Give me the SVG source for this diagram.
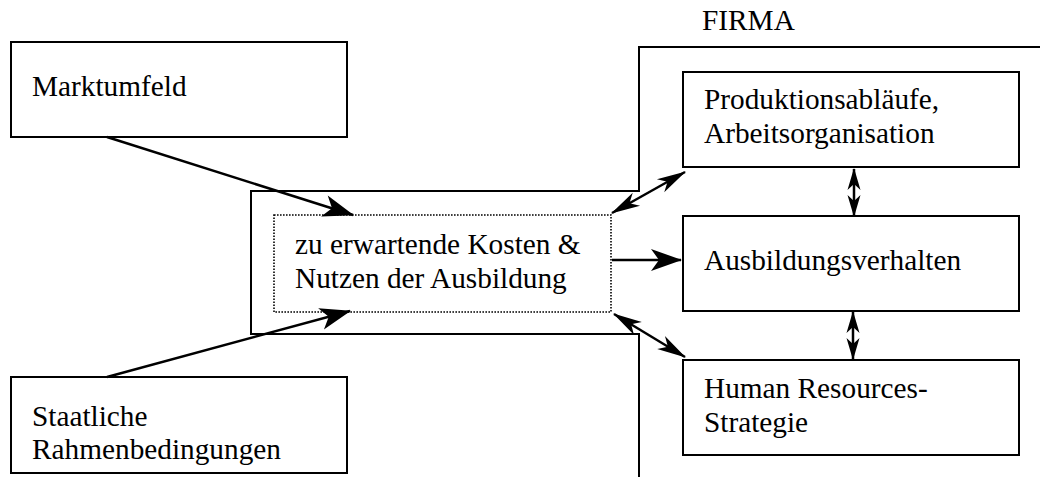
<svg xmlns="http://www.w3.org/2000/svg" width="1040" height="477" viewBox="0 0 1040 477">
<style>
  .box { fill: #fff; stroke: #000; stroke-width: 2; }
  .dot { fill: none; stroke: #000; stroke-width: 1.6; stroke-dasharray: 1.6 1.4; }
  .frame { fill: none; stroke: #000; stroke-width: 2; }
  text { font-family: 'Liberation Serif', 'Times New Roman', Times, serif; font-size: 29.3px; fill: #000; }
  .c { fill: none; stroke: #000; stroke-width: 2.5; }
  .big { marker-end: url(#ah); }
  .dbl { marker-start: url(#ahs); marker-end: url(#ahs); }
  .vdbl { marker-start: url(#ahv); marker-end: url(#ahv); }
</style>
<defs>
  <marker id="ah" markerUnits="userSpaceOnUse" viewBox="-32 -12 34 24" refX="0" refY="0" markerWidth="34" markerHeight="24" orient="auto">
    <path d="M1,0 L-30,-11 L-22,0 L-30,11 Z" fill="#000"/>
  </marker>
  <marker id="ahs" markerUnits="userSpaceOnUse" viewBox="-30 -9 32 18" refX="0" refY="0" markerWidth="32" markerHeight="18" orient="auto-start-reverse">
    <path d="M1,0 L-28,-7.5 L-20,0 L-28,7.5 Z" fill="#000"/>
  </marker>
  <marker id="ahv" markerUnits="userSpaceOnUse" viewBox="-22 -8 24 16" refX="0" refY="0" markerWidth="24" markerHeight="16" orient="auto-start-reverse">
    <path d="M1,0 L-21,-6.5 L-15,0 L-21,6.5 Z" fill="#000"/>
  </marker>
</defs>

<g id="firma">
  <path class="frame" d="M1040,47 L639,47 L639,191 L251,191 L251,334 L639,334 L639,477"/>
  <text x="702" y="30">FIRMA</text>
</g>

<g id="marktumfeld">
  <rect class="box" x="11" y="42" width="336" height="95"/>
  <text x="32" y="96">Marktumfeld</text>
</g>

<g id="staatliche">
  <rect class="box" x="11" y="377" width="336" height="96"/>
  <text x="32" y="426">Staatliche</text>
  <text x="32" y="459">Rahmenbedingungen</text>
</g>

<g id="kosten">
  <rect class="dot" x="274" y="215" width="337" height="97"/>
  <text x="295" y="254">zu erwartende Kosten &amp;</text>
  <text x="295" y="288">Nutzen der Ausbildung</text>
</g>

<g id="produktion">
  <rect class="box" x="683" y="72" width="336" height="95"/>
  <text x="704" y="109">Produktionsabläufe,</text>
  <text x="704" y="143">Arbeitsorganisation</text>
</g>

<g id="ausbildung">
  <rect class="box" x="683" y="216" width="336" height="95"/>
  <text x="704" y="270">Ausbildungsverhalten</text>
</g>

<g id="hr">
  <rect class="box" x="683" y="360" width="336" height="95"/>
  <text x="704" y="398">Human Resources-</text>
  <text x="704" y="432">Strategie</text>
</g>

<g id="connectors">
  <line class="c big" x1="107" y1="137" x2="353" y2="215"/>
  <line class="c big" x1="107" y1="377" x2="350" y2="311"/>
  <line class="c big" x1="612" y1="260" x2="681" y2="260"/>
  <line class="c dbl" x1="612" y1="213" x2="685" y2="172"/>
  <line class="c dbl" x1="614" y1="314" x2="685" y2="357"/>
  <line class="c vdbl" x1="854" y1="169" x2="854" y2="216"/>
  <line class="c vdbl" x1="853" y1="312" x2="853" y2="359"/>
</g>
</svg>
